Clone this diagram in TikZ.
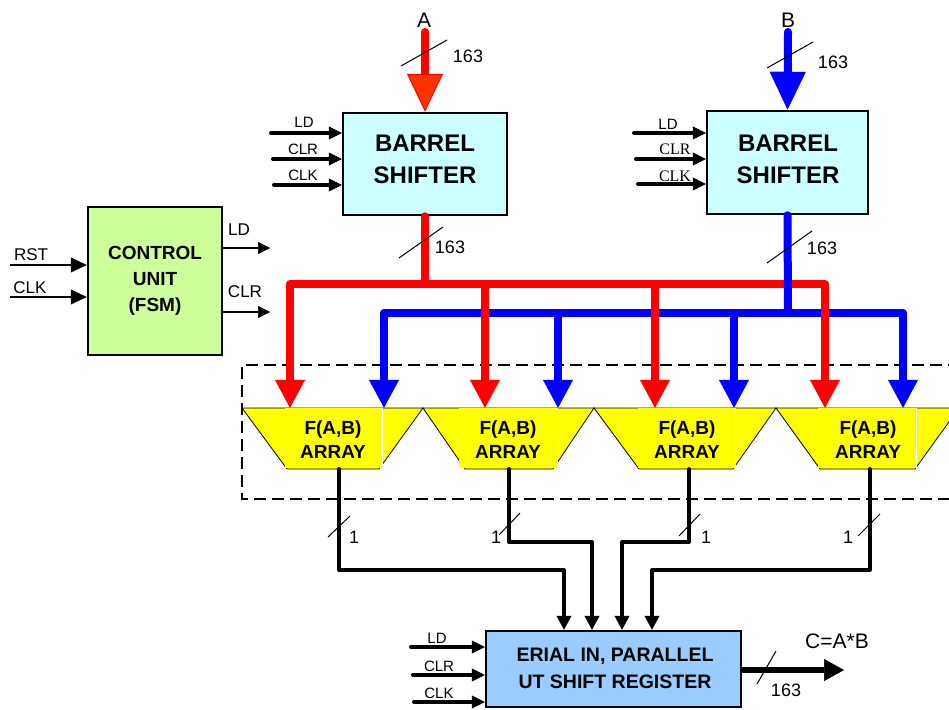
\documentclass[tikz,border=0pt]{standalone}
\usepackage{fontspec}
\setmainfont{Liberation Sans}
\newfontfamily\serifx{Liberation Serif}
\usetikzlibrary{arrows.meta,calc}
\definecolor{cyanbox}{RGB}{204,255,255}
\definecolor{greenbox}{RGB}{204,255,153}
\definecolor{bluebox}{RGB}{153,204,255}
\definecolor{busred}{RGB}{255,0,0}
\definecolor{busblue}{RGB}{0,0,255}
\definecolor{headred}{RGB}{255,51,0}
\definecolor{fyellow}{RGB}{255,255,0}
\tikzset{
  blk/.style={draw=black,line width=2.5pt,inner sep=0pt},
  ttl/.style={inner sep=0pt,align=center,font=\fontsize{24}{32}\selectfont\bfseries},
  cut/.style={inner sep=0pt,align=center,font=\fontsize{19}{26}\selectfont\bfseries},
  ftxt/.style={inner sep=0pt,align=center,font=\fontsize{19}{24}\selectfont\bfseries},
  rtxt/.style={inner sep=0pt,align=center,font=\fontsize{19.5}{27}\selectfont\bfseries},
  lbl/.style={inner sep=0pt,font=\fontsize{15}{18}\selectfont},
  lbls/.style={inner sep=0pt,font=\fontsize{16}{18}\selectfont\serifx},
  lblm/.style={inner sep=0pt,font=\fontsize{17}{20}\selectfont},
  num/.style={inner sep=0pt,font=\fontsize{18}{20}\selectfont},
  big/.style={inner sep=0pt,font=\fontsize{21}{24}\selectfont},
  slash/.style={line width=1pt},
  sigin/.style={line width=4pt,line cap=round,-{Triangle[length=13pt,width=13pt,line width=0.5pt]}},
  thinin/.style={line width=1.5pt,-{Triangle[length=16pt,width=15pt,line width=0.5pt]}},
  cuout/.style={line width=2pt,-{Triangle[length=12pt,width=12pt,line width=0.5pt]}},
  redbus/.style={line width=8pt,busred,line cap=round},
  bluebus/.style={line width=8pt,busblue,line cap=round},
  reddrop/.style={line width=8pt,busred,-{Triangle[length=28pt,width=30pt,line width=0.5pt]}},
  bluedrop/.style={line width=8pt,busblue,-{Triangle[length=28pt,width=30pt,line width=0.5pt]}},
  Aarrow/.style={line width=8pt,busred,line cap=round,-{Triangle[length=38pt,width=36pt,line width=1pt,fill=headred]}},
  Barrow/.style={line width=8pt,busblue,line cap=round,-{Triangle[length=38pt,width=36pt,line width=1pt]}},
  trap/.style={fill=fyellow,draw=black,line width=0.8pt,line join=miter},
  fbox/.style={fill=fyellow,inner sep=0pt,minimum height=59pt},
  outwire/.style={line width=4pt,line join=round,line cap=round,-{Triangle[length=14pt,width=15pt,line width=0.5pt]}},
  regout/.style={line width=6pt,-{Triangle[length=20pt,width=22pt,line width=0.5pt]}},
  dashbox/.style={line width=2pt,dash pattern=on 12pt off 6pt}
}
\begin{document}
\begin{tikzpicture}[x=1pt,y=-1pt]
\useasboundingbox (0,0) rectangle (949,709);
\fill[white] (0,0) rectangle (949,709);

% ---------- barrel shifters ----------
\node[blk,fill=cyanbox,minimum width=164pt,minimum height=102pt] (bsA) at (425,164) {};
\node[ttl] (tA) at (425,159) {BARREL\\SHIFTER};
\node[blk,fill=cyanbox,minimum width=161pt,minimum height=103pt] (bsB) at (787.5,162.5) {};
\node[ttl] (tB) at (788,159) {BARREL\\SHIFTER};

% inputs A and B
\node[big] (Alab) at (424,20) {A};
\node[big] (Blab) at (788,20) {B};
\coordinate (Ain) at (425,32);
\coordinate (Bin) at (788,32);
\draw[Aarrow] (Ain) -- (bsA.north);
\draw[Barrow] (Bin) -- (bsB.north);
\draw[slash] (401,66) -- (447,40);
\node[num] (nA1) at (468,56) {163};
\draw[slash] (767,68) -- (813,42);
\node[num] (nB1) at (833,62) {163};

% control inputs barrel A
\coordinate (aLD) at (271,133);
\coordinate (aCLR) at (273,159);
\coordinate (aCLK) at (274,185);
\draw[sigin] (aLD) -- (aLD -| bsA.west);
\draw[sigin] (aCLR) -- (aCLR -| bsA.west);
\draw[sigin] (aCLK) -- (aCLK -| bsA.west);
\node[lbl] (aLDl) at (304,122.5) {LD};
\node[lbl] (aCLRl) at (303,149) {CLR};
\node[lbl] (aCLKl) at (303,175.5) {CLK};

% control inputs barrel B
\coordinate (bLD) at (634,133);
\coordinate (bCLR) at (636,159);
\coordinate (bCLK) at (638,184);
\draw[sigin] (bLD) -- (bLD -| bsB.west);
\draw[sigin] (bCLR) -- (bCLR -| bsB.west);
\draw[sigin] (bCLK) -- (bCLK -| bsB.west);
\node[lbl] (bLDl) at (668,124) {LD};
\node[lbls] (bCLRl) at (675,149.5) {CLR};
\node[lbls] (bCLKl) at (675,176) {CLK};

% ---------- control unit ----------
\node[blk,fill=greenbox,minimum width=134pt,minimum height=148pt] (cu) at (155,281) {};
\node[cut] (cut) at (155,281) {CONTROL\\UNIT\\(FSM)};
\coordinate (rst) at (10,265);
\coordinate (cclk) at (10,297);
\draw[thinin] (rst) -- (rst -| cu.west);
\draw[thinin] (cclk) -- (cclk -| cu.west);
\node[lblm] (rstl) at (31,255) {RST};
\node[lblm] (cclkl) at (30,288) {CLK};
\coordinate (cuLD) at (270,248);
\coordinate (cuCLR) at (270,312);
\draw[cuout] (cuLD -| cu.east) -- (cuLD);
\draw[cuout] (cuCLR -| cu.east) -- (cuCLR);
\node[lblm] (cuLDl) at (239,230) {LD};
\node[lblm] (cuCLRl) at (245,292) {CLR};

% ---------- dashed region ----------
\draw[dashbox] (960,365) -- (242,365) -- (242,499) -- (960,499);

% ---------- F(A,B) arrays ----------
\draw[trap] (242,408) -- (423,408) -- (379,469) -- (287,469) -- cycle;
\draw[trap] (423,408) -- (594,408) -- (553,469) -- (465,469) -- cycle;
\draw[trap] (594,408) -- (776,408) -- (733,469) -- (639,469) -- cycle;
\draw[trap] (776,408) -- (959,408) -- (915,469) -- (820,469) -- cycle;
\node[fbox,minimum width=97pt] (f1) at (333.5,437.5) {};
\node[fbox,minimum width=98pt] (f2) at (508,437.5) {};
\node[fbox,minimum width=97pt] (f3) at (686.5,437.5) {};
\node[fbox,minimum width=98pt] (f4) at (867,437.5) {};
\foreach \f in {f1,f2,f3,f4}{
  \draw[white,line width=0.6pt] (\f.north east) -- (\f.south east) -- (\f.south west);
}
\node[ftxt] (ft1) at (333,440) {F(A,B)\\ARRAY};
\node[ftxt] (ft2) at (508,440) {F(A,B)\\ARRAY};
\node[ftxt] (ft3) at (687,440) {F(A,B)\\ARRAY};
\node[ftxt] (ft4) at (868,440) {F(A,B)\\ARRAY};

% ---------- buses ----------
\coordinate (rA) at (425,284);
\coordinate (bB) at (788,313);
\draw[line width=8pt,busred,line cap=round] (bsA.south) -- (rA);
\draw[redbus] (290,284) -- (825,284);
\draw[slash] (399,258) -- (443,227);
\node[num] (nA2) at (450,247) {163};
\draw[bluebus] (bsB.south) -- (bB);
\draw[slash] (767,263) -- (812,231);
\node[num] (nB2) at (822,248) {163};
\draw[bluebus] (384,313) -- (903,313);

\coordinate (b1) at (384,313);
\coordinate (b2) at (558,313);
\coordinate (b3) at (734,313);
\coordinate (b4) at (903,313);
\draw[bluedrop] (b1) -- (b1 |- f1.north);
\draw[bluedrop] (b2) -- (b2 |- f2.north);
\draw[bluedrop] (b3) -- (b3 |- f3.north);
\draw[bluedrop] (b4) -- (b4 |- f4.north);
\coordinate (r1) at (290,284);
\coordinate (r2) at (485,284);
\coordinate (r3) at (655,284);
\coordinate (r4) at (825,284);
\draw[reddrop] (r1) -- (r1 |- f1.north);
\draw[reddrop] (r2) -- (r2 |- f2.north);
\draw[reddrop] (r3) -- (r3 |- f3.north);
\draw[reddrop] (r4) -- (r4 |- f4.north);

% ---------- register ----------
\node[blk,fill=bluebox,minimum width=255pt,minimum height=76pt] (reg) at (613.5,669) {};
\node[rtxt] (rt) at (615,668.5) {ERIAL IN, PARALLEL\\UT SHIFT REGISTER};

\coordinate (o1) at (339,469);
\coordinate (o2) at (509,469);
\coordinate (o3) at (689,469);
\coordinate (o4) at (870,469);
\coordinate (j1) at (564,570);
\coordinate (j2) at (592,542);
\coordinate (j3) at (622,542);
\coordinate (j4) at (652,570);
\draw[outwire] (o1) |- (j1) -- (j1 |- reg.north);
\draw[outwire] (o2) |- (j2) -- (j2 |- reg.north);
\draw[outwire] (o3) |- (j3) -- (j3 |- reg.north);
\draw[outwire] (o4) |- (j4) -- (j4 |- reg.north);
\draw[slash] (328,537) -- (350,516);
\node[num] (one1) at (354,537) {1};
\draw[slash] (499,535) -- (520,513);
\node[num] (one2) at (496,537) {1};
\draw[slash] (679,536) -- (700,514);
\node[num] (one3) at (706,537) {1};
\draw[slash] (858,536) -- (880,514);
\node[num] (one4) at (848,537) {1};

% register inputs
\coordinate (rLD) at (411,647);
\coordinate (rCLR) at (413,675);
\coordinate (rCLK) at (414,702);
\draw[sigin] (rLD) -- (rLD -| reg.west);
\draw[sigin] (rCLR) -- (rCLR -| reg.west);
\draw[sigin] (rCLK) -- (rCLK -| reg.west);
\node[lbl] (rLDl) at (437,638) {LD};
\node[lbl] (rCLRl) at (439,666) {CLR};
\node[lbl] (rCLKl) at (439,693) {CLK};

% register output
\coordinate (cout) at (844,670);
\draw[regout] (cout -| reg.east) -- (cout);
\draw[slash] (757,684) -- (776,651);
\node[num] (nC) at (786,690) {163};
\node[big] (Clab) at (837,641) {C=A*B};
\end{tikzpicture}
\end{document}
